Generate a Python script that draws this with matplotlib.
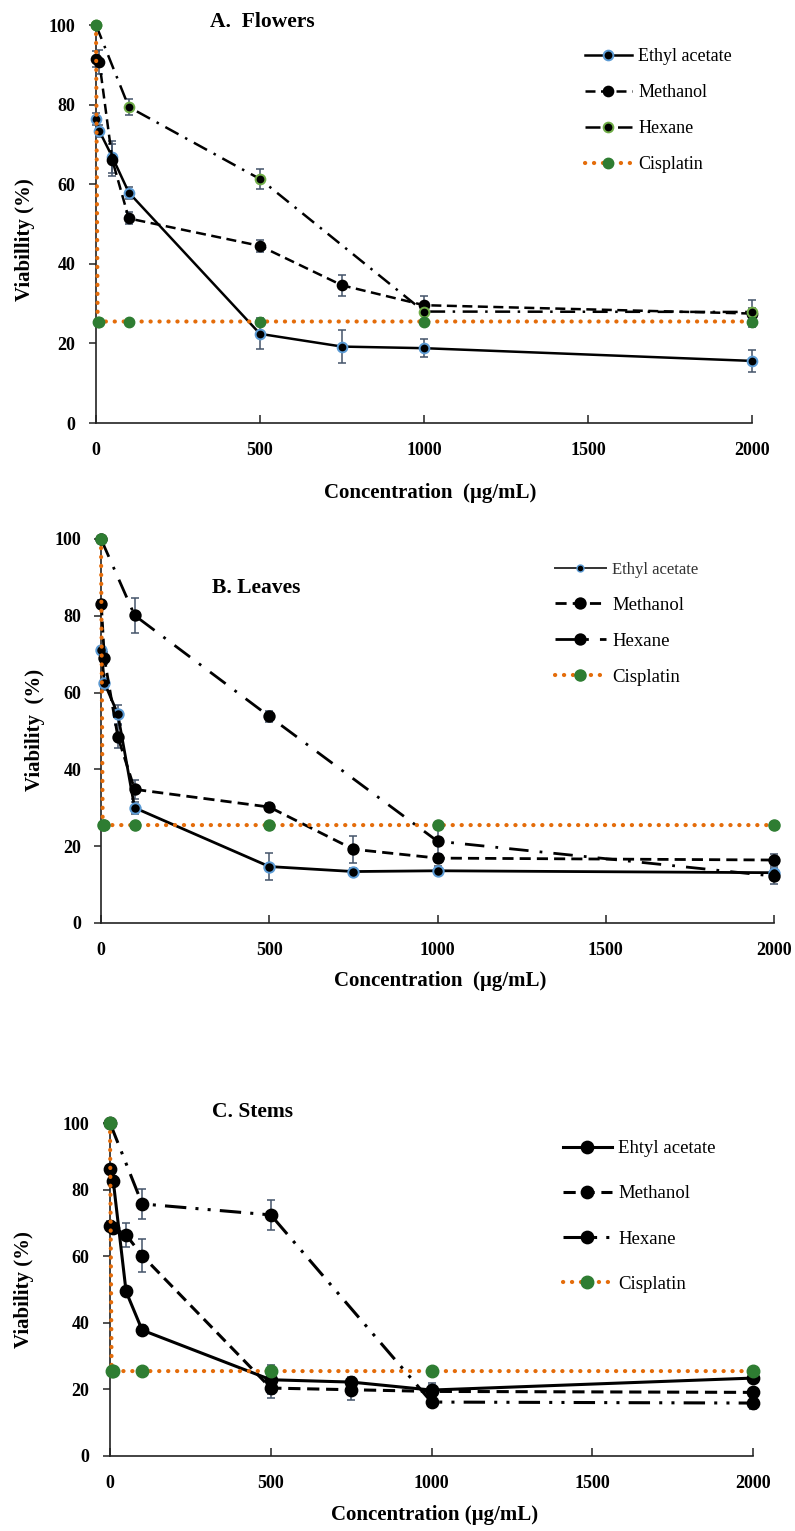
import matplotlib
matplotlib.use('Agg')
import matplotlib.pyplot as plt
from matplotlib.lines import Line2D

plt.rcParams['font.family'] = ['Liberation Serif', 'DejaVu Serif']

# ---------------- data ----------------
# Panel A: Flowers
A_x_ethyl = [1, 10, 50, 100, 500, 750, 1000, 2000]
A_y_ethyl = [76.5, 73.4, 66.8, 57.9, 22.4, 19.2, 18.8, 15.6]
A_e_ethyl = [1.5, 1.5, 4.0, 1.5, 3.9, 4.2, 2.2, 2.7]
A_x_meth = [1, 10, 50, 100, 500, 750, 1000, 2000]
A_y_meth = [91.4, 90.8, 66.0, 51.4, 44.5, 34.6, 29.6, 27.5]
A_e_meth = [2.0, 3.0, 4.0, 1.5, 1.5, 2.6, 2.3, 3.4]
A_x_hex = [0, 100, 500, 1000, 2000]
A_y_hex = [100, 79.4, 61.3, 28.0, 27.9]
A_e_hex = [0, 2.0, 2.5, 2.0, 1.0]
A_x_cis = [0, 5, 10, 100, 500, 1000, 2000]
A_y_cis = [100, 25.5, 25.5, 25.5, 25.5, 25.5, 25.5]

# Panel B: Leaves
B_x_ethyl = [1, 10, 50, 100, 500, 750, 1000, 2000]
B_y_ethyl = [71.0, 62.6, 54.4, 30.0, 14.7, 13.4, 13.6, 13.1]
B_e_ethyl = [1.0, 2.0, 2.5, 1.5, 3.6, 0.8, 1.2, 1.0]
B_x_meth = [1, 10, 50, 100, 500, 750, 1000, 2000]
B_y_meth = [83.0, 69.0, 48.5, 34.8, 30.2, 19.2, 16.9, 16.4]
B_e_meth = [1.0, 1.5, 3.0, 2.5, 1.0, 3.5, 1.0, 1.5]
B_x_hex = [0, 100, 500, 1000, 2000]
B_y_hex = [100, 80.1, 53.8, 21.3, 12.2]
B_e_hex = [0, 4.5, 1.5, 3.5, 2.0]
B_x_cis = [0, 5, 10, 100, 500, 1000, 2000]
B_y_cis = [100, 25.5, 25.5, 25.5, 25.5, 25.5, 25.5]

# Panel C: Stems
C_x_ethyl = [1, 10, 50, 100, 500, 750, 1000, 2000]
C_y_ethyl = [86.2, 82.7, 49.4, 37.8, 22.9, 22.2, 19.8, 23.4]
C_e_ethyl = [1.0, 1.5, 1.0, 1.5, 4.3, 1.5, 1.5, 1.0]
C_x_meth = [1, 10, 50, 100, 500, 750, 1000, 2000]
C_y_meth = [69.0, 68.6, 66.4, 60.2, 20.4, 19.9, 19.4, 19.1]
C_e_meth = [1.5, 1.5, 3.5, 5.0, 3.0, 3.0, 2.5, 1.0]
C_x_hex = [0, 100, 500, 1000, 2000]
C_y_hex = [100, 75.7, 72.4, 16.2, 15.9]
C_e_hex = [0, 4.6, 4.5, 1.5, 1.8]
C_x_cis = [0, 5, 10, 100, 500, 1000, 2000]
C_y_cis = [100, 25.5, 25.5, 25.5, 25.5, 25.5, 25.5]

x_ticks = [0, 500, 1000, 1500, 2000]
y_ticks = [0, 20, 40, 60, 80, 100]

titles = ['A.  Flowers', 'B. Leaves', 'C. Stems']
ylabels = ['Viabillity (%)', 'Viability  (%)', 'Viability (%)']
xlabels = ['Concentration  (\u00b5g/mL)', 'Concentration  (\u00b5g/mL)', 'Concentration (\u00b5g/mL)']
legend_labels = [['Ethyl acetate', 'Methanol', 'Hexane', 'Cisplatin'],
                 ['Ethyl acetate', 'Methanol', 'Hexane', 'Cisplatin'],
                 ['Ehtyl acetate', 'Methanol', 'Hexane', 'Cisplatin']]

# ---------------- style ----------------
W, H = 795, 1531
ERR = '#44546A'
ORANGE = '#E46C0A'
GREEN = '#2E7D32'
BLUE = '#5B9BD5'
LGREEN = '#70AD47'

fig = plt.figure(figsize=(W / 100, H / 100), dpi=100)


def fx(px):
    return px / W


def fy(py):
    return 1 - py / H


def make_ax(x0, x1, ytop, ybot):
    return fig.add_axes([fx(x0), fy(ybot), (x1 - x0) / W, (ybot - ytop) / H])


def series(ax, x, y, e, ls, lw, mfc, mec, ms, z):
    ax.errorbar(x, y, yerr=e, fmt='none', ecolor=ERR, elinewidth=1.1,
                capsize=3, capthick=1.1, zorder=z - 0.5, clip_on=False)
    ax.plot(x, y, color='black', ls=ls, lw=lw, marker='o', ms=ms, mfc=mfc,
            mec=mec, mew=1.4, zorder=z, clip_on=False)


def cis(ax, x, y, ms):
    ax.plot(x, y, color=ORANGE, ls=(0, (0.05, 2.1)), lw=3.0,
            dash_capstyle='round', zorder=6, clip_on=False)
    ax.plot(x, y, ls='none', marker='o', ms=ms, mfc=GREEN, mec=GREEN,
            zorder=6.5, clip_on=False)


def style_ax(ax, xpad, ypad):
    ax.set_xlim(0, 2000)
    ax.set_ylim(0, 100)
    ax.set_xticks(x_ticks)
    ax.set_yticks(y_ticks)
    for s in ['top', 'right']:
        ax.spines[s].set_visible(False)
    for s in ['left', 'bottom']:
        ax.spines[s].set_linewidth(1.2)
        ax.spines[s].set_color('#222222')
    ax.tick_params(axis='x', direction='in', length=6, width=1.1,
                   labelsize=13, pad=xpad, color='#222222')
    ax.tick_params(axis='y', direction='out', length=5, width=1.1,
                   labelsize=13, pad=ypad, color='#222222')
    for lab in ax.get_xticklabels() + ax.get_yticklabels():
        lab.set_fontweight('bold')


panel_specs = [
    dict(box=(96, 752, 25, 423), xpad=14, ypad=10,
         title=(262, 22), ylab=(25, 240), xlab=(430, 493),
         leg=(585, 48, 2.6, 1.05, 13)),
    dict(box=(101, 774, 539, 923), xpad=14, ypad=9,
         title=(256, 588), ylab=(35, 730), xlab=(440, 981),
         leg=(555, 561, 2.7, 1.0, 13.5)),
    dict(box=(110, 753, 1123, 1456), xpad=14, ypad=10,
         title=(253, 1112), ylab=(24, 1290), xlab=(435, 1515),
         leg=(563, 1140, 2.6, 1.5, 13.5)),
]

data = [
    (A_x_ethyl, A_y_ethyl, A_e_ethyl, A_x_meth, A_y_meth, A_e_meth,
     A_x_hex, A_y_hex, A_e_hex, A_x_cis, A_y_cis),
    (B_x_ethyl, B_y_ethyl, B_e_ethyl, B_x_meth, B_y_meth, B_e_meth,
     B_x_hex, B_y_hex, B_e_hex, B_x_cis, B_y_cis),
    (C_x_ethyl, C_y_ethyl, C_e_ethyl, C_x_meth, C_y_meth, C_e_meth,
     C_x_hex, C_y_hex, C_e_hex, C_x_cis, C_y_cis),
]

hex_ls = [(0, (6, 3, 1, 3)), (0, (7, 4, 1, 4)), (0, (7, 3, 1, 3, 1, 3))]
meth_ls = (0, (4, 2.2))
lws = [1.8, 2.0, 2.2]
ethyl_edge = [BLUE, BLUE, 'black']
hex_edge = [LGREEN, 'black', 'black']
mss = [7, 7.5, 8.5]

for i, spec in enumerate(panel_specs):
    x0, x1, yt, yb = spec['box']
    ax = make_ax(x0, x1, yt, yb)
    (xe, ye, ee, xm, ym, em, xh, yh, eh, xc, yc) = data[i]
    lw = lws[i]
    ms = mss[i]
    series(ax, xe, ye, ee, '-', lw, 'black', ethyl_edge[i], ms, 4)
    series(ax, xm, ym, em, meth_ls, lw, 'black', 'black', ms, 4.2)
    series(ax, xh, yh, eh, hex_ls[i], lw, 'black', hex_edge[i], ms, 4.4)
    cis(ax, xc, yc, ms + 0.5)
    style_ax(ax, spec['xpad'], spec['ypad'])

    tx, ty = spec['title']
    fig.text(fx(tx), fy(ty), titles[i], ha='center', va='center',
             fontsize=15.5, fontweight='bold')
    lx, ly = spec['ylab']
    fig.text(fx(lx), fy(ly), ylabels[i], ha='center', va='center',
             rotation=90, fontsize=15, fontweight='bold')
    cx, cy = spec['xlab']
    fig.text(fx(cx), fy(cy), xlabels[i], ha='center', va='center',
             fontsize=15, fontweight='bold')

    # legend
    lgx, lgy, hl, lsp, fs = spec['leg']
    if i == 1:
        h_eth = Line2D([], [], color='#333333', ls='-', lw=1.4, marker='o',
                       ms=5, mfc='black', mec=BLUE, mew=1.0)
    else:
        h_eth = Line2D([], [], color='black', ls='-', lw=lw, marker='o',
                       ms=ms, mfc='black', mec=ethyl_edge[i], mew=1.4)
    h_met = Line2D([], [], color='black', ls=meth_ls, lw=lw, marker='o',
                   ms=ms, mfc='black', mec='black', mew=1.4)
    h_hex = Line2D([], [], color='black', ls=hex_ls[i], lw=lw, marker='o',
                   ms=ms, mfc='black', mec=hex_edge[i], mew=1.4)
    h_cis = Line2D([], [], color=ORANGE, ls=(0, (0.05, 2.1)), lw=3.0,
                   dash_capstyle='round', marker='o', ms=ms + 0.5,
                   mfc=GREEN, mec=GREEN)
    leg = ax.legend([h_eth, h_met, h_hex, h_cis], legend_labels[i],
                    loc='upper left', bbox_to_anchor=(fx(lgx), fy(lgy)),
                    bbox_transform=fig.transFigure, frameon=False,
                    fontsize=fs, handlelength=hl, handletextpad=0.35,
                    labelspacing=lsp, borderpad=0, borderaxespad=0)
    if i == 1:
        leg.get_texts()[0].set_fontsize(12)
        leg.get_texts()[0].set_color('#333333')

fig.savefig('out.png', dpi=100)
